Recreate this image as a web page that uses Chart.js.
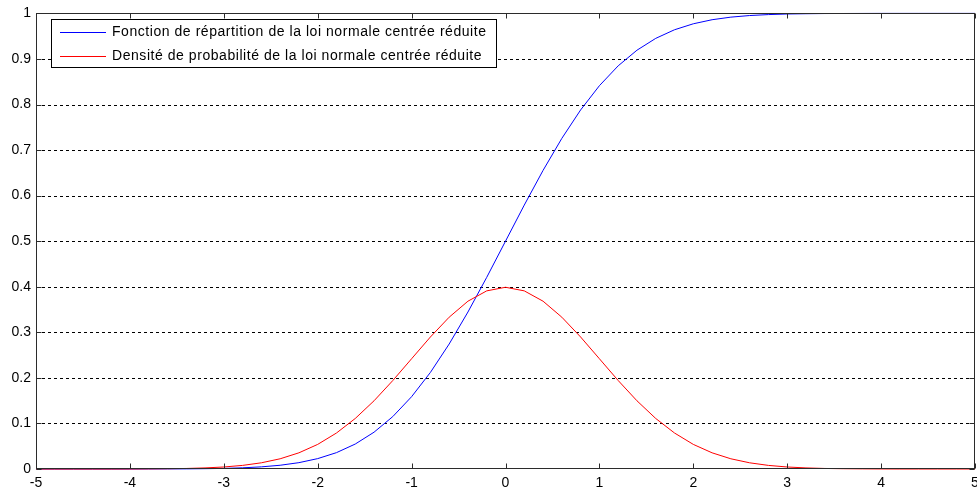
<!DOCTYPE html>
<html>
<head>
<meta charset="utf-8">
<script src="https://cdn.jsdelivr.net/npm/chart.js@4"></script>
<style>
  html, body { margin: 0; padding: 0; background: #ffffff; }
  #wrap { width: 977px; height: 496px; }
</style>
</head>
<body>
<div id="wrap"><canvas id="chart" width="977" height="496"></canvas></div>
<script>
// x positions of the samples (step 0.2)
const xValues = [
  -5, -4.8, -4.6, -4.4, -4.2, -4, -3.8, -3.6, -3.4, -3.2,
  -3, -2.8, -2.6, -2.4, -2.2, -2, -1.8, -1.6, -1.4, -1.2,
  -1, -0.8, -0.6, -0.4, -0.2, 0, 0.2, 0.4, 0.6, 0.8,
  1, 1.2, 1.4, 1.6, 1.8, 2, 2.2, 2.4, 2.6, 2.8,
  3, 3.2, 3.4, 3.6, 3.8, 4, 4.2, 4.4, 4.6, 4.8, 5
];

// Fonction de répartition (courbe bleue)
const cdfValues = [
  0, 0, 0, 0, 0, 0, 0.0001, 0.0002, 0.0003, 0.0007,
  0.0013, 0.0026, 0.0047, 0.0082, 0.0139, 0.0228, 0.0359, 0.0548, 0.0808, 0.1151,
  0.1587, 0.2119, 0.2743, 0.3446, 0.4207, 0.5, 0.5793, 0.6554, 0.7257, 0.7881,
  0.8413, 0.8849, 0.9192, 0.9452, 0.9641, 0.9772, 0.9861, 0.9918, 0.9953, 0.9974,
  0.9987, 0.9993, 0.9997, 0.9998, 0.9999, 1, 1, 1, 1, 1, 1
];

// Densité de probabilité (courbe rouge)
const pdfValues = [
  0, 0, 0, 0, 0, 0.0001, 0.0003, 0.0006, 0.0012, 0.0024,
  0.0044, 0.0079, 0.0136, 0.0224, 0.0355, 0.054, 0.079, 0.1109, 0.1497, 0.1942,
  0.242, 0.2897, 0.3332, 0.3683, 0.391, 0.3989, 0.391, 0.3683, 0.3332, 0.2897,
  0.242, 0.1942, 0.1497, 0.1109, 0.079, 0.054, 0.0355, 0.0224, 0.0136, 0.0079,
  0.0044, 0.0024, 0.0012, 0.0006, 0.0003, 0.0001, 0, 0, 0, 0, 0
];

const seriesLabels = [
  'Fonction de répartition de la loi normale centrée réduite',
  'Densité de probabilité de la loi normale centrée réduite'
];

const xTicks = [-5, -4, -3, -2, -1, 0, 1, 2, 3, 4, 5];
const yTicks = [0, 0.1, 0.2, 0.3, 0.4, 0.5, 0.6, 0.7, 0.8, 0.9, 1];

const BLUE = '#0000ff';
const RED  = '#ff0000';
const AXIS_COLOR = '#2b2b2b';
const FONT = "'Liberation Sans', Arial, sans-serif";

function toPoints(ys) {
  return xValues.map((x, i) => ({ x: x, y: ys[i] }));
}

/* -------- Frame, inward ticks, dashed grid, boxed legend -------- */

const matlabAxes = {
  id: 'matlabAxes',
  beforeDatasetsDraw(chart) {
    const { ctx, chartArea: a, scales } = chart;
    ctx.save();
    ctx.strokeStyle = '#000000';
    ctx.lineWidth = 1;
    ctx.setLineDash([3, 3]);
    yTicks.forEach(v => {
      if (v === 0 || v === 1) return;
      const y = Math.round(scales.y.getPixelForValue(v)) + 0.5;
      ctx.beginPath();
      ctx.moveTo(a.left, y);
      ctx.lineTo(a.right, y);
      ctx.stroke();
    });
    ctx.restore();
  },
  afterDraw(chart) {
    const { ctx, chartArea: a, scales } = chart;
    const L = Math.round(a.left) + 0.5, R = Math.round(a.right) - 0.5;
    const T = Math.round(a.top) + 0.5,  B = Math.round(a.bottom) - 0.5;
    ctx.save();
    ctx.strokeStyle = AXIS_COLOR;
    ctx.lineWidth = 1;
    ctx.strokeRect(L, T, R - L, B - T);

    const len = 5;
    ctx.beginPath();
    xTicks.forEach(v => {
      const x = Math.round(scales.x.getPixelForValue(v)) + 0.5;
      ctx.moveTo(x, B); ctx.lineTo(x, B - len);
      ctx.moveTo(x, T); ctx.lineTo(x, T + len);
    });
    yTicks.forEach(v => {
      const y = Math.round(scales.y.getPixelForValue(v)) + 0.5;
      ctx.moveTo(L, y); ctx.lineTo(L + len, y);
      ctx.moveTo(R, y); ctx.lineTo(R - len, y);
    });
    ctx.stroke();

    // legend box
    const bx = 51.5, by = 19.5, bw = 445, bh = 48;
    ctx.fillStyle = '#ffffff';
    ctx.fillRect(bx, by, bw, bh);
    ctx.strokeStyle = '#000000';
    ctx.strokeRect(bx, by, bw, bh);
    const rows = [32.5, 56.5];
    const colors = [BLUE, RED];
    ctx.font = '14px ' + FONT;
    ctx.letterSpacing = '0.55px';
    ctx.textBaseline = 'middle';
    ctx.textAlign = 'left';
    seriesLabels.forEach((label, i) => {
      ctx.strokeStyle = colors[i];
      ctx.beginPath();
      ctx.moveTo(60, rows[i]);
      ctx.lineTo(106, rows[i]);
      ctx.stroke();
      ctx.fillStyle = '#000000';
      ctx.fillText(label, 112, rows[i]);
    });
    ctx.restore();
  }
};

new Chart(document.getElementById('chart').getContext('2d'), {
  type: 'line',
  data: {
    datasets: [
      {
        label: seriesLabels[0],
        data: toPoints(cdfValues),
        borderColor: BLUE,
        borderWidth: 1,
        pointRadius: 0,
        tension: 0,
        fill: false,
        order: 1,
      },
      {
        label: seriesLabels[1],
        data: toPoints(pdfValues),
        borderColor: RED,
        borderWidth: 1,
        pointRadius: 0,
        tension: 0,
        fill: false,
        order: 0,
      },
    ],
  },
  options: {
    responsive: false,
    animation: false,
    clip: false,
    layout: { padding: { top: 12, right: 2, left: 0, bottom: 0 } },
    plugins: {
      legend: { display: false },
      tooltip: { enabled: false },
    },
    scales: {
      x: {
        type: 'linear',
        min: -5,
        max: 5,
        afterBuildTicks: scale => { scale.ticks = xTicks.map(v => ({ value: v })); },
        afterFit: scale => { scale.height = 27; scale.paddingLeft = 0; scale.paddingRight = 0; },
        grid: { display: false, drawTicks: false },
        border: { display: false },
        ticks: {
          padding: 6,
          color: '#000000',
          font: { size: 14, family: FONT },
          callback: v => String(v),
        },
      },
      y: {
        type: 'linear',
        min: 0,
        max: 1,
        afterBuildTicks: scale => { scale.ticks = yTicks.map(v => ({ value: v })); },
        afterFit: scale => { scale.width = 36; },
        grid: { display: false, drawTicks: false },
        border: { display: false },
        ticks: {
          padding: 5,
          color: '#000000',
          font: { size: 14, family: FONT },
          callback: v => String(Number(v.toFixed(1))),
        },
      },
    },
  },
  plugins: [matlabAxes],
});
</script>
</body>
</html>
